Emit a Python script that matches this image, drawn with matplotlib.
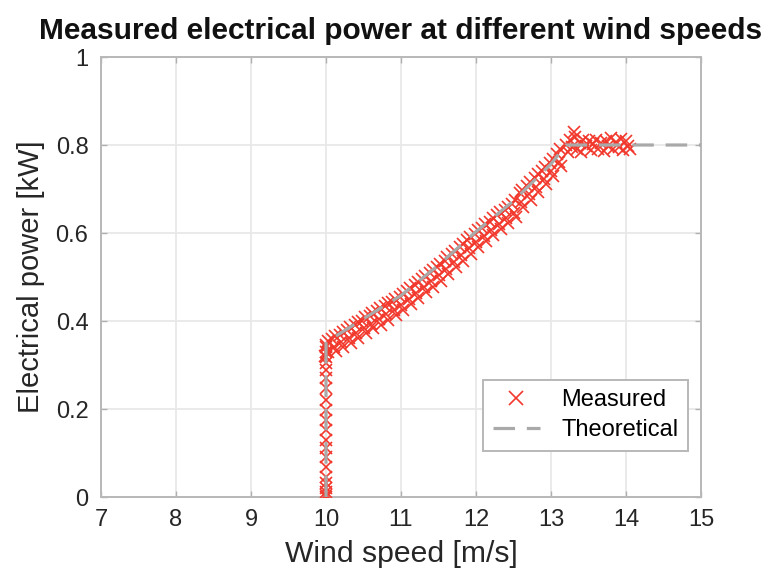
import matplotlib
matplotlib.use("Agg")
import matplotlib.pyplot as plt

plt.rcParams['font.family'] = ['Liberation Sans', 'DejaVu Sans']
plt.rcParams['lines.scale_dashes'] = False

# Theoretical power curve
theo_speed = [10.0, 10.0, 10.5, 11.0, 11.5, 12.0, 12.5, 13.0, 13.2, 15.0]
theo_power = [0.0, 0.352, 0.405, 0.458, 0.527, 0.603, 0.673, 0.757, 0.800, 0.800]

# Measured points: vertical start-up column at 10 m/s
start_speed = [10.0, 10.0, 10.0, 10.0, 10.0, 10.0, 10.0, 10.0, 10.0, 10.0, 10.0,
               10.0, 10.0, 10.0, 10.0, 10.0, 10.0, 10.0, 10.0, 10.0, 10.0]
start_power = [0.0, 0.005, 0.012, 0.02, 0.032, 0.045, 0.068, 0.091, 0.111, 0.13,
               0.152, 0.175, 0.198, 0.22, 0.248, 0.27, 0.289, 0.305, 0.318, 0.33, 0.34]

# Measured points along the rising part
rise_speed = [
    10.00, 10.02, 10.03, 9.99,
    10.08, 10.10, 10.12, 10.13,
    10.18, 10.20, 10.22, 10.23,
    10.28, 10.30, 10.32, 10.33,
    10.38, 10.40, 10.42, 10.43,
    10.48, 10.50, 10.52, 10.53,
    10.58, 10.60, 10.62, 10.63,
    10.68, 10.70, 10.72, 10.73,
    10.78, 10.80, 10.82, 10.83,
    10.88, 10.90, 10.92, 10.93,
    10.98, 11.00, 11.02, 11.03,
    11.08, 11.10, 11.12, 11.13,
    11.18, 11.20, 11.22, 11.23,
    11.28, 11.30, 11.32, 11.33,
    11.38, 11.40, 11.42, 11.43,
    11.48, 11.50, 11.52, 11.53,
    11.58, 11.60, 11.62, 11.63,
    11.68, 11.70, 11.72, 11.73,
    11.78, 11.80, 11.82, 11.83,
    11.88, 11.90, 11.92, 11.93,
    11.98, 12.00, 12.02, 12.03,
    12.08, 12.10, 12.12, 12.13,
    12.18, 12.20, 12.22, 12.23,
    12.28, 12.30, 12.32, 12.33,
    12.38, 12.40, 12.42, 12.43,
    12.48, 12.50, 12.52, 12.53,
    12.58, 12.60, 12.62, 12.63,
    12.68, 12.70, 12.72, 12.73,
    12.78, 12.80, 12.82, 12.83,
    12.88, 12.90, 12.92, 12.93,
    12.98, 13.00, 13.02, 13.03,
    13.08, 13.10, 13.12, 13.13,
]
rise_power = [
    0.345, 0.330, 0.355, 0.320,
    0.358, 0.340, 0.365, 0.332,
    0.368, 0.352, 0.375, 0.342,
    0.380, 0.362, 0.386, 0.350,
    0.390, 0.372, 0.397, 0.361,
    0.401, 0.383, 0.408, 0.372,
    0.412, 0.394, 0.418, 0.383,
    0.422, 0.404, 0.429, 0.392,
    0.433, 0.415, 0.440, 0.403,
    0.443, 0.425, 0.450, 0.413,
    0.454, 0.436, 0.462, 0.425,
    0.468, 0.450, 0.476, 0.438,
    0.482, 0.463, 0.489, 0.452,
    0.495, 0.477, 0.503, 0.465,
    0.509, 0.490, 0.516, 0.478,
    0.523, 0.505, 0.530, 0.492,
    0.537, 0.519, 0.545, 0.507,
    0.552, 0.534, 0.560, 0.522,
    0.568, 0.550, 0.575, 0.537,
    0.583, 0.565, 0.590, 0.552,
    0.598, 0.580, 0.606, 0.568,
    0.612, 0.594, 0.620, 0.582,
    0.626, 0.607, 0.634, 0.596,
    0.640, 0.621, 0.647, 0.609,
    0.653, 0.634, 0.660, 0.622,
    0.666, 0.645, 0.675, 0.636,
    0.690, 0.670, 0.698, 0.658,
    0.707, 0.688, 0.716, 0.676,
    0.724, 0.705, 0.733, 0.694,
    0.741, 0.722, 0.750, 0.711,
    0.758, 0.740, 0.768, 0.730,
    0.780, 0.762, 0.790, 0.752,
]

# Measured points on the rated-power plateau
plateau_speed = [13.20, 13.22, 13.25, 13.28, 13.30, 13.32, 13.35, 13.38, 13.40, 13.43,
                 13.46, 13.50, 13.53, 13.56, 13.60, 13.63, 13.66, 13.70, 13.73, 13.76,
                 13.80, 13.83, 13.86, 13.90, 13.93, 13.96, 14.00, 14.03, 14.05]
plateau_power = [0.800, 0.785, 0.812, 0.795, 0.830, 0.818, 0.790, 0.805, 0.785, 0.812,
                 0.798, 0.808, 0.788, 0.802, 0.812, 0.792, 0.805, 0.787, 0.808, 0.798,
                 0.815, 0.790, 0.806, 0.795, 0.814, 0.788, 0.808, 0.798, 0.790]

meas_speed = start_speed + rise_speed + plateau_speed
meas_power = start_power + rise_power + plateau_power

x_ticks = [7, 8, 9, 10, 11, 12, 13, 14, 15]
y_ticks = [0, 0.2, 0.4, 0.6, 0.8, 1]
y_ticklabels = ['0', '0.2', '0.4', '0.6', '0.8', '1']

fig = plt.figure(figsize=(7.68, 5.82), dpi=100)
ax = fig.add_axes([101/768, 1 - 497/582, 600/768, 440/582])

red = '#f2382c'
gray = '#a9a9a9'
ax.plot(meas_speed, meas_power, linestyle='none', marker='x', color=red,
        markersize=8.5, markeredgewidth=1.2, label='Measured', zorder=3)
ax.plot(theo_speed, theo_power, color=gray, linewidth=2.3, dashes=(15.5, 8.5),
        label='Theoretical', zorder=4)

ax.set_xlim(7, 15)
ax.set_ylim(0, 1)
ax.set_xticks(x_ticks)
ax.set_yticks(y_ticks)
ax.set_yticklabels(y_ticklabels)
ax.grid(True, color='#e8e8e8', linewidth=1.3)
ax.set_axisbelow(True)
for s in ax.spines.values():
    s.set_color('#b8b8b8')
    s.set_linewidth(1.4)
ax.tick_params(direction='in', length=4, width=1, color='#b0b0b0',
               labelsize=17, labelcolor='#262626', top=True, right=True, pad=9)

ax.set_xlabel('Wind speed [m/s]', fontsize=21.7, color='#262626', labelpad=6)
ax.set_ylabel('Electrical power [kW]', fontsize=21, color='#262626', labelpad=8)
ax.set_title('Measured electrical power at different wind speeds', fontsize=21.5,
             fontweight='bold', color='#111111', pad=13)

leg = ax.legend(loc='lower right', bbox_to_anchor=(0.978, 0.105), fontsize=17,
                frameon=True, fancybox=False, edgecolor='#b8b8b8', framealpha=1,
                handlelength=2.0, borderpad=0.4, labelspacing=0.35, handletextpad=0.9,
                borderaxespad=0, markerscale=1.15)
leg.get_frame().set_linewidth(1.4)

fig.savefig('out.png', dpi=100)
